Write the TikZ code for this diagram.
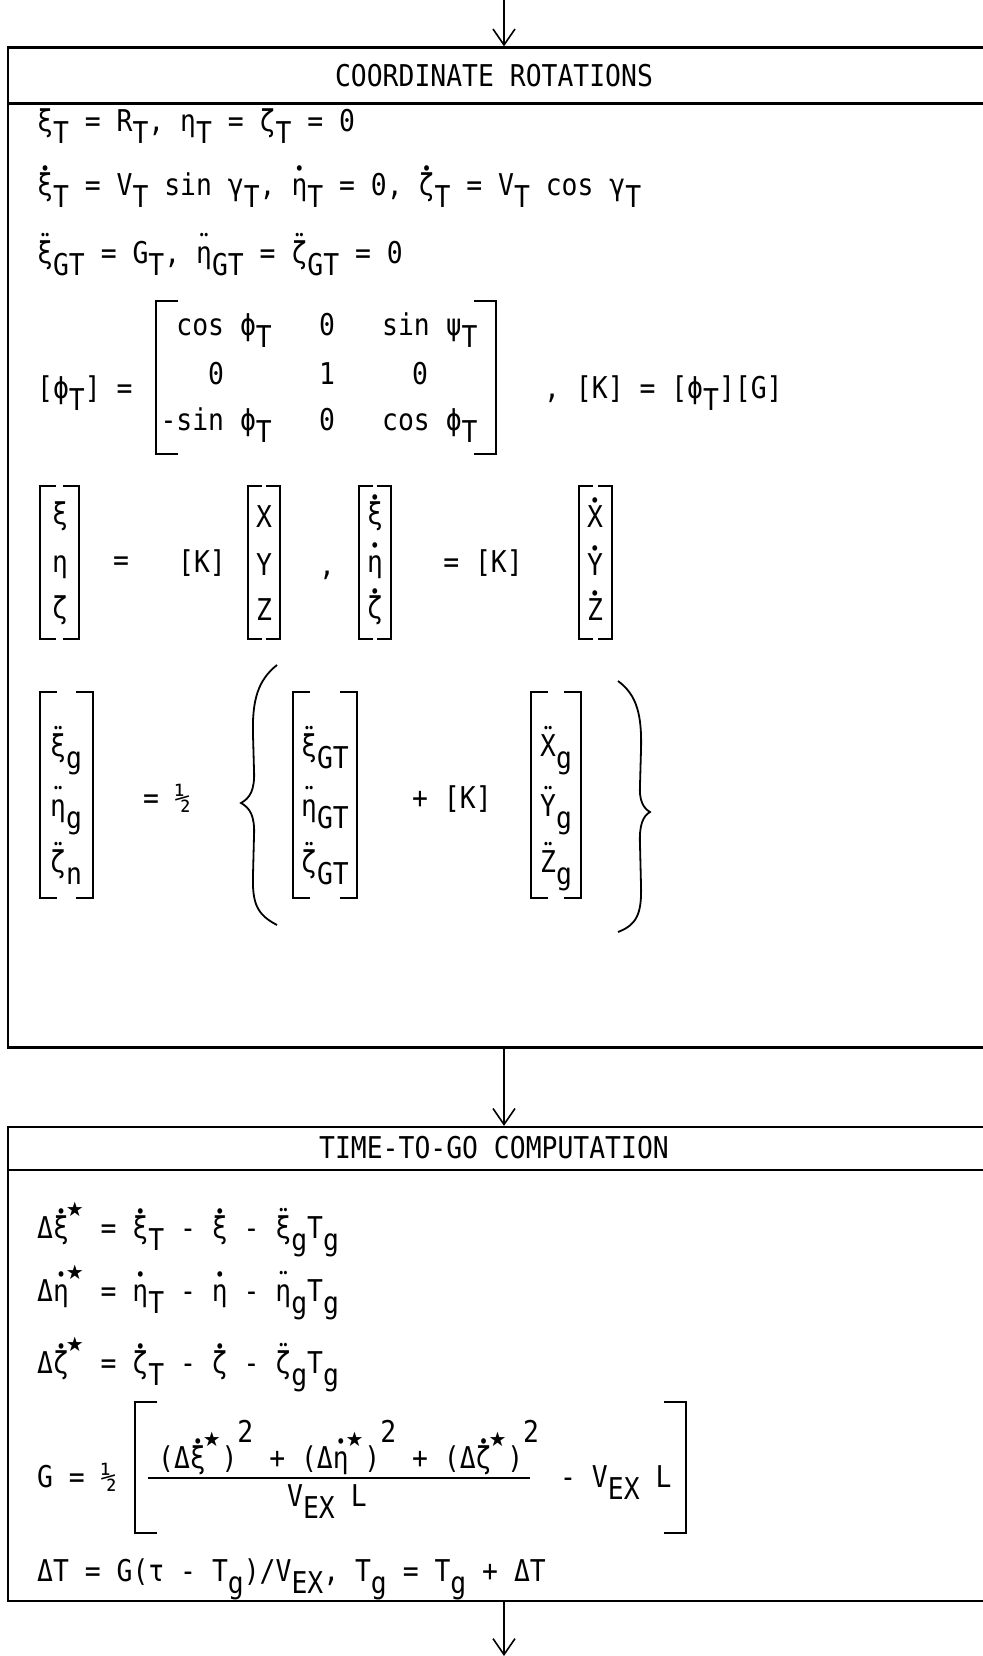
\documentclass[tikz,border=0pt]{standalone}
\usepackage{fontspec}
\setmainfont{DejaVu Sans Mono}[FakeStretch=0.88]
\newfontfamily\symf{DejaVu Sans}
\usetikzlibrary{arrows.meta}
\newcommand\sbs[1]{\raisebox{-0.4em}[0pt][0pt]{#1}}
\newcommand\dt[1]{{\ooalign{#1\cr\hidewidth\raisebox{20pt}[0pt][0pt]{\fontsize{19}{19}\selectfont •}\hidewidth\cr}}}
\newcommand\ddt[1]{{\ooalign{#1\cr\hidewidth\raisebox{24pt}[0pt][0pt]{\fontsize{12}{12}\selectfont •\kern-2pt•}\hidewidth\cr}}}
\newcommand\str{\makebox[15.7pt][l]{\kern-3pt\raisebox{22pt}[0pt][0pt]{\symf\fontsize{20}{20}\selectfont ★}}}
\newcommand\sq{\raisebox{0.85em}[0pt][0pt]{2}}
\tikzset{
  tx/.style={inner sep=0pt, anchor=base west, font=\fontsize{30}{36}\selectfont},
  txc/.style={tx, anchor=base},
  txe/.style={tx, anchor=base east},
  boxnode/.style={draw, line width=2.2pt, rectangle, minimum width=992pt, inner sep=0pt},
  hline/.style={line width=2.2pt},
  brk/.style={line width=2.2pt},
  brc/.style={line width=1.8pt},
  arr/.style={line width=1.6pt, -{Straight Barb[length=16pt,width=22pt,line width=1.6pt]}}
}
\newcommand\vbrk[5]{%
  \draw[brk] (#1+#5,#3) -| (#1,#4) -- (#1+#5,#4);
  \draw[brk] (#2-#5,#3) -| (#2,#4) -- (#2-#5,#4);}
\begin{document}
\begin{tikzpicture}[x=1pt,y=-1pt]
\useasboundingbox (0,0) rectangle (982,1656);
% boxes
\node[boxnode, minimum height=1000pt] (b1) at (504,547.5) {};
\node[boxnode, minimum height=474pt] (b2) at (504,1364) {};
\coordinate (h1) at (8,103.5);
\coordinate (h2) at (8,1170);
\draw[hline] (h1) -- (h1 -| b1.east);
\draw[hline] (h2) -- (h2 -| b2.east);
\coordinate (top) at (504,0);
\coordinate (bot) at (504,1656);
\draw[arr] (top) -- (b1.north);
\draw[arr] (b1.south) -- (b2.north);
\draw[arr] (b2.south) -- (bot);
% titles
\node[txc] (t1) at (494,87) {COORDINATE ROTATIONS};
\node[txc] (t2) at (494,1158) {TIME-TO-GO COMPUTATION};
% box 1 lines
\node[tx] (l1) at (37,132) {ξ\sbs{T} = R\sbs{T}, η\sbs{T} = ζ\sbs{T} = 0};
\node[tx] (l2) at (37,196) {\dt{ξ}\sbs{T} = V\sbs{T} sin γ\sbs{T}, \dt{η}\sbs{T} = 0, \dt{ζ}\sbs{T} = V\sbs{T} cos γ\sbs{T}};
\node[tx] (l3) at (37,263) {\ddt{ξ}\sbs{GT} = G\sbs{T}, \ddt{η}\sbs{GT} = \ddt{ζ}\sbs{GT} = 0};
% matrix
\node[tx] (ml) at (37,398) {[ϕ\sbs{T}] =};
\vbrk{156}{496}{301}{454}{22}
\node[txe] (c11) at (272,335) {cos ϕ\sbs{T}};
\node[txc] (c12) at (327,335) {0};
\node[tx]  (c13) at (382,335) {sin ψ\sbs{T}};
\node[txc] (c21) at (216,384) {0};
\node[txc] (c22) at (327,384) {1};
\node[txc] (c23) at (420,384) {0};
\node[txe] (c31) at (272,430) {-sin ϕ\sbs{T}};
\node[txc] (c32) at (327,430) {0};
\node[tx]  (c33) at (382,430) {cos ϕ\sbs{T}};
\node[tx] (kk) at (544,398) {, [K] = [ϕ\sbs{T}][G]};
% position vectors
\vbrk{40}{79}{486}{639}{16}
\node[txc] (p1) at (60,524) {ξ};
\node[txc] (p2) at (60,572) {η};
\node[txc] (p3) at (60,618) {ζ};
\node[txc] (e1) at (121,570) {=};
\node[txc] (k1) at (202,572) {[K]};
\vbrk{248}{280}{486}{639}{14}
\node[txc] (x1) at (264,527) {X};
\node[txc] (x2) at (264,575) {Y};
\node[txc] (x3) at (264,620) {Z};
\node[txc] (cm) at (327,575) {,};
\vbrk{359}{391}{486}{639}{14}
\node[txc] (q1) at (375,524) {\dt{ξ}};
\node[txc] (q2) at (375,572) {\dt{η}};
\node[txc] (q3) at (375,618) {\dt{ζ}};
\node[txc] (k2) at (483,572) {= [K]};
\vbrk{579}{612}{486}{639}{14}
\node[txc] (y1) at (595,527) {\dt{X}};
\node[txc] (y2) at (595,575) {\dt{Y}};
\node[txc] (y3) at (595,620) {\dt{Z}};
% accelerations
\vbrk{40}{93}{692}{898}{17}
\node[tx] (a11) at (50,756) {\ddt{ξ}\sbs{g}};
\node[tx] (a12) at (50,816) {\ddt{η}\sbs{g}};
\node[tx] (a13) at (50,872) {\ddt{ζ}\sbs{n}};
\node[tx] (hf) at (143,808) {= ½};
\draw[brc] (277,665) .. controls (258,680) and (252,700) .. (253,735) -- (254,770) .. controls (255,790) and (250,798) .. (241,803) .. controls (250,808) and (255,816) .. (254,836) -- (253,875) .. controls (252,905) and (258,915) .. (277,925);
\vbrk{293}{357}{692}{898}{17}
\node[tx] (a21) at (301,756) {\ddt{ξ}\sbs{GT}};
\node[tx] (a22) at (301,816) {\ddt{η}\sbs{GT}};
\node[tx] (a23) at (301,872) {\ddt{ζ}\sbs{GT}};
\node[tx] (pk) at (412,808) {+ [K]};
\vbrk{531}{581}{692}{898}{17}
\node[tx] (a31) at (540,756) {\ddt{X}\sbs{g}};
\node[tx] (a32) at (540,816) {\ddt{Y}\sbs{g}};
\node[tx] (a33) at (540,872) {\ddt{Z}\sbs{g}};
\draw[brc] (618,681) .. controls (637,695) and (642,715) .. (641,750) -- (640,785) .. controls (639,800) and (643,808) .. (650,812) .. controls (643,816) and (639,825) .. (640,845) -- (641,885) .. controls (642,915) and (636,925) .. (618,932);
% box 2
\node[tx] (d1) at (37,1238) {Δ\dt{ξ}\str\ = \dt{ξ}\sbs{T} - \dt{ξ} - \ddt{ξ}\sbs{g}T\sbs{g}};
\node[tx] (d2) at (37,1301) {Δ\dt{η}\str\ = \dt{η}\sbs{T} - \dt{η} - \ddt{η}\sbs{g}T\sbs{g}};
\node[tx] (d3) at (37,1373) {Δ\dt{ζ}\str\ = \dt{ζ}\sbs{T} - \dt{ζ} - \ddt{ζ}\sbs{g}T\sbs{g}};
\node[tx] (g0) at (37,1487) {G = ½};
\vbrk{135}{686}{1402}{1533}{22}
\node[tx] (num) at (158,1468) {(Δ\dt{ξ}\str)\sq\ + (Δ\dt{η}\str)\sq\ + (Δ\dt{ζ}\str)\sq};
\coordinate (fl) at (148,1478);
\coordinate (fr) at (530,1478);
\draw[line width=1.6pt] (fl) -- (fr);
\node[tx] (den) at (287,1506) {V\sbs{EX} L};
\node[tx] (mv) at (560,1487) {- V\sbs{EX} L};
\node[tx] (dt) at (37,1581) {ΔT = G(τ - T\sbs{g})/V\sbs{EX}, T\sbs{g} = T\sbs{g} + ΔT};
\end{tikzpicture}
\end{document}
